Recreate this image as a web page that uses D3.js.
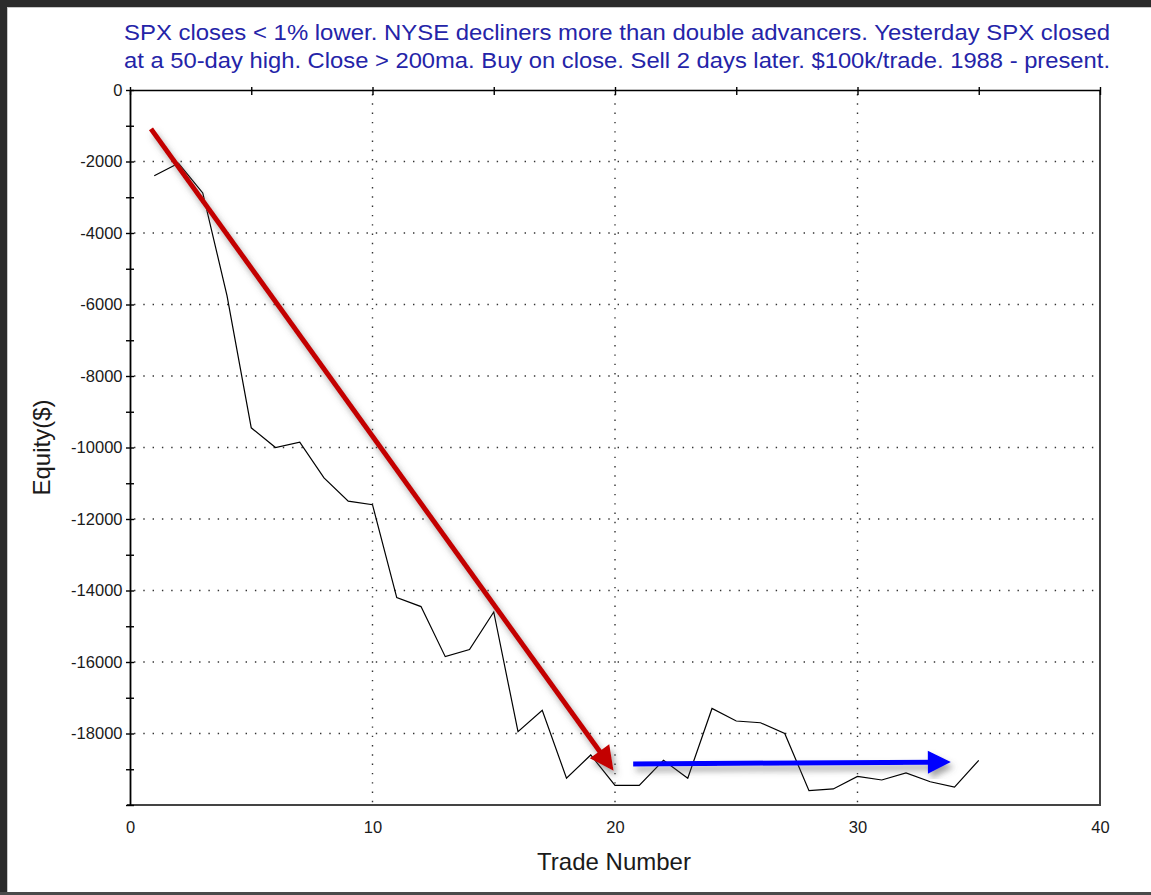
<!DOCTYPE html>
<html>
<head>
<meta charset="utf-8">
<script src="https://cdn.jsdelivr.net/npm/d3@7"></script>
<style>
  html, body { margin: 0; padding: 0; background: #fff; }
  svg { display: block; }
  text { font-family: "Liberation Sans", Arial, sans-serif; }
</style>
</head>
<body>
<script>
// ---------- data ----------
const trades = d3.range(1, 36);
const equity = [-2400, -2050, -2880, -5750, -9450, -10000, -9850, -10850, -11500, -11600,
                -14200, -14450, -15850, -15650, -14600, -17950, -17350, -19250, -18600, -19450,
                -19450, -18750, -19250, -17300, -17650, -17700, -18000, -19600, -19550, -19200,
                -19300, -19100, -19350, -19500, -18750];
const xTickLabels = [0, 10, 20, 30, 40];
const xMinorTicks = [0, 5, 10, 15, 20, 25, 30, 35, 40];
const yTicks = d3.range(-20000, 1, 1000);
const yLabelTicks = [0, -2000, -4000, -6000, -8000, -10000, -12000, -14000, -16000, -18000];
const yGrid = [-2000, -4000, -6000, -8000, -10000, -12000, -14000, -16000, -18000];
const xGrid = [10, 20, 30];
const redArrow = [[0.865, -1087], [19.94, -19040]];
const blueArrow = [[20.75, -18850], [33.85, -18800]];
const titleLines = [
  "SPX closes < 1% lower. NYSE decliners more than double advancers. Yesterday SPX closed",
  "at a 50-day high. Close > 200ma. Buy on close. Sell 2 days later. $100k/trade. 1988 - present."
];
const xTitle = "Trade Number";
const yTitle = "Equity($)";

// ---------- layout ----------
const W = 1151, H = 895;
const L = 130, R = 1100, T = 90, B = 805;

const svg = d3.select("body").append("svg").attr("width", W).attr("height", H);

const defs = svg.append("defs");
const f = defs.append("filter").attr("id", "shadow")
  .attr("x", "-20%").attr("y", "-20%").attr("width", "140%").attr("height", "140%");
f.append("feDropShadow").attr("dx", 3).attr("dy", 5).attr("stdDeviation", 3)
  .attr("flood-color", "#555").attr("flood-opacity", 0.55);

// outer frame
svg.append("rect").attr("x", 0).attr("y", 0).attr("width", W).attr("height", 7).attr("fill", "#2b2b2b");
svg.append("rect").attr("x", 0).attr("y", 0).attr("width", 7).attr("height", H).attr("fill", "#2b2b2b");
svg.append("rect").attr("x", 7).attr("y", 7).attr("width", W - 7).attr("height", 1).attr("fill", "#c8c8c8");
svg.append("rect").attr("x", 7).attr("y", 7).attr("width", 1).attr("height", H - 7).attr("fill", "#c8c8c8");
svg.append("rect").attr("x", 0).attr("y", H - 3).attr("width", W).attr("height", 3).attr("fill", "#4a4a4a");

const x = d3.scaleLinear().domain([0, 40]).range([L, R]);
const y = d3.scaleLinear().domain([-20000, 0]).range([B, T]);

// title
svg.append("g").selectAll("text").data(titleLines).join("text")
  .attr("x", 124).attr("y", (d, i) => 39.5 + i * 28)
  .attr("textLength", 986).attr("lengthAdjust", "spacingAndGlyphs")
  .attr("font-size", 22).attr("fill", "#2424a8")
  .text(d => d);

// grid
const grid = svg.append("g").attr("stroke", "#333").attr("stroke-width", 1.4)
  .attr("stroke-dasharray", "1.4 7.9").attr("stroke-linecap", "butt");
grid.selectAll("line.h").data(yGrid).join("line").attr("class", "h")
  .attr("x1", L + 4).attr("x2", R).attr("y1", d => y(d)).attr("y2", d => y(d));
grid.selectAll("line.v").data(xGrid).join("line").attr("class", "v")
  .attr("y1", T + 4).attr("y2", B).attr("x1", d => x(d)).attr("x2", d => x(d));

// right & bottom frame
svg.append("line").attr("x1", R).attr("x2", R).attr("y1", T).attr("y2", B + 1)
  .attr("stroke", "#444").attr("stroke-width", 2);
svg.append("line").attr("x1", L - 3).attr("x2", R + 1).attr("y1", B).attr("y2", B)
  .attr("stroke", "#444").attr("stroke-width", 2);

// top axis (ticks only)
const topAx = svg.append("g").attr("transform", `translate(0,${T})`)
  .call(d3.axisTop(x).tickValues(xMinorTicks).tickFormat("").tickSizeOuter(0).tickSizeInner(4));
topAx.select(".domain").attr("stroke", "#000").attr("stroke-width", 1.6);
topAx.selectAll(".tick line").attr("y1", -3).attr("y2", 5).attr("stroke", "#000").attr("stroke-width", 1.4);

// bottom axis labels
const botAx = svg.append("g").attr("transform", `translate(0,${B})`)
  .call(d3.axisBottom(x).tickValues(xTickLabels).tickFormat(d => String(d)).tickSize(0).tickPadding(16));
botAx.select(".domain").remove();
botAx.selectAll("text").attr("font-size", 16.5).attr("fill", "#1a1a1a")
  .attr("font-family", "Liberation Sans, Arial, sans-serif");

// left axis
const leftAx = svg.append("g").attr("transform", `translate(${L},0)`)
  .call(d3.axisLeft(y).tickValues(yTicks)
    .tickFormat(d => yLabelTicks.includes(d) ? String(d) : "")
    .tickSizeOuter(0).tickSizeInner(4));
leftAx.select(".domain").attr("stroke", "#000").attr("stroke-width", 1.8);
leftAx.selectAll(".tick line").attr("x1", -4).attr("x2", 4).attr("stroke", "#000").attr("stroke-width", 1.4);
leftAx.selectAll(".tick text").attr("x", -7.5).attr("font-size", 16.5).attr("fill", "#1a1a1a")
  .attr("font-family", "Liberation Sans, Arial, sans-serif");

// axis titles
svg.append("text").attr("x", (L + R) / 2 - 1).attr("y", 870).attr("text-anchor", "middle")
  .attr("font-size", 24).attr("fill", "#1a1a1a").text(xTitle);
svg.append("text").attr("transform", `translate(50,${(T + B) / 2}) rotate(-90)`)
  .attr("text-anchor", "middle").attr("font-size", 24).attr("fill", "#1a1a1a").text(yTitle);

// equity line
const line = d3.line().x((d, i) => x(trades[i])).y(d => y(d));
svg.append("path").datum(equity).attr("d", line)
  .attr("fill", "none").attr("stroke", "#000").attr("stroke-width", 1.2);

// arrows
function arrow(pts, color, width, headLen, headHalf) {
  const x0 = x(pts[0][0]), y0 = y(pts[0][1]);
  const x1 = x(pts[1][0]), y1 = y(pts[1][1]);
  const dx = x1 - x0, dy = y1 - y0, len = Math.hypot(dx, dy);
  const ux = dx / len, uy = dy / len, nx = -uy, ny = ux;
  const bx = x1 - ux * headLen, by = y1 - uy * headLen;
  const g = svg.append("g").attr("filter", "url(#shadow)");
  g.append("line").attr("x1", x0).attr("y1", y0).attr("x2", bx + ux * 2).attr("y2", by + uy * 2)
    .attr("stroke", color).attr("stroke-width", width).attr("stroke-linecap", "butt");
  g.append("path").attr("d", `M${x1},${y1}L${bx + nx * headHalf},${by + ny * headHalf}L${bx - nx * headHalf},${by - ny * headHalf}Z`)
    .attr("fill", color);
}
arrow(redArrow, "#c30000", 5, 24, 12);
arrow(blueArrow, "#0000ff", 5, 23, 11.5);
</script>
</body>
</html>
